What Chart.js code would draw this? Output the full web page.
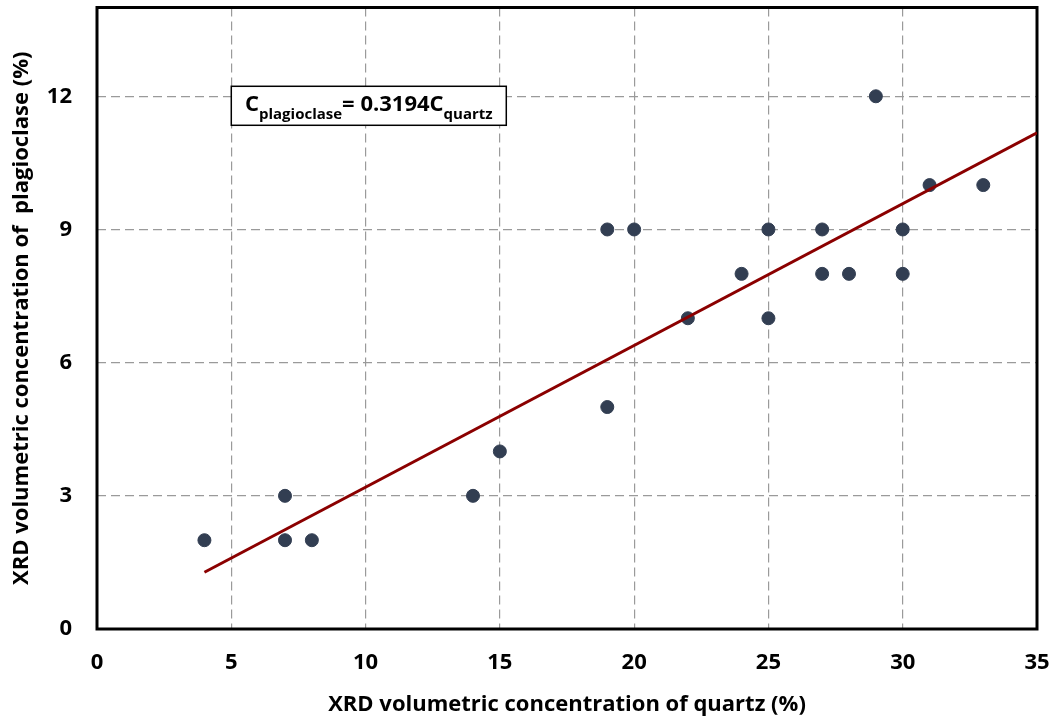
<!DOCTYPE html>
<html>
<head>
<meta charset="utf-8">
<script src="https://cdn.jsdelivr.net/npm/chart.js@4"></script>
<style>
  body { margin: 0; background: #fff; }
  #wrap { width: 1055px; height: 721px; }
</style>
</head>
<body>
<div id="wrap"><canvas id="quartzChart"></canvas></div>
<script>
// XRD volumetric concentrations (%)
const quartz      = [4, 7, 7, 8, 14, 15, 19, 19, 20, 22, 24, 25, 25, 27, 27, 28, 29, 30, 30, 31, 33];
const plagioclase = [2, 3, 2, 2, 3, 4, 5, 9, 9, 7, 8, 9, 7, 9, 8, 8, 12, 9, 8, 10, 10];

// Linear fit through origin
const slope = 0.3194;
const fitRange = [4, 35];

const xTicks = [0, 5, 10, 15, 20, 25, 30, 35];
const yTicks = [0, 3, 6, 9, 12];

const FONT = "'Open Sans', Roboto, sans-serif";

const points = quartz.map((q, i) => ({ x: q, y: plagioclase[i] }));
const fitLine = fitRange.map(q => ({ x: q, y: slope * q }));

// black frame around the plot area
const framePlugin = {
  id: "frame",
  beforeDatasetsDraw(chart) {
    const { ctx, chartArea: a } = chart;
    ctx.save();
    ctx.strokeStyle = "#000";
    ctx.lineWidth = 3;
    ctx.strokeRect(a.left, a.top, a.right - a.left, a.bottom - a.top);
    ctx.restore();
  }
};

// equation label in a boxed text
const equationPlugin = {
  id: "equation",
  afterDatasetsDraw(chart) {
    const { ctx, scales } = chart;
    const left = scales.x.getPixelForValue(5);
    const top = scales.y.getPixelForValue(12) - 10;
    const w = 275, h = 39;
    ctx.save();
    ctx.fillStyle = "#fff";
    ctx.fillRect(left, top, w, h);
    ctx.strokeStyle = "#000";
    ctx.lineWidth = 1.5;
    ctx.strokeRect(left, top, w, h);

    const parts = [
      { t: "C", size: 22, dy: 0 },
      { t: "plagioclase", size: 15, dy: 8 },
      { t: "= 0.3194C", size: 22, dy: 0 },
      { t: "quartz", size: 15, dy: 8 }
    ];
    let total = 0;
    parts.forEach(p => {
      ctx.font = "bold " + p.size + "px " + FONT;
      p.w = ctx.measureText(p.t).width;
      total += p.w;
    });
    let x = left + (w - total) / 2;
    const base = top + 25;
    ctx.fillStyle = "#000";
    ctx.textBaseline = "alphabetic";
    parts.forEach(p => {
      ctx.font = "bold " + p.size + "px " + FONT;
      ctx.fillText(p.t, x, base + p.dy);
      x += p.w;
    });
    ctx.restore();
  }
};

new Chart(document.getElementById("quartzChart"), {
  type: "scatter",
  data: {
    datasets: [
      {
        label: "Measured",
        data: points,
        backgroundColor: "#323e52",
        borderColor: "#323e52",
        pointRadius: 6.5,
        pointHoverRadius: 6.5,
        order: 2
      },
      {
        label: "Fit",
        type: "line",
        data: fitLine,
        borderColor: "#8b0000",
        borderWidth: 3,
        pointRadius: 0,
        fill: false,
        order: 1
      }
    ]
  },
  options: {
    responsive: true,
    maintainAspectRatio: false,
    animation: false,
    layout: { padding: { left: 0, top: 7, right: 18, bottom: 0 } },
    plugins: {
      legend: { display: false },
      tooltip: { enabled: false }
    },
    scales: {
      x: {
        type: "linear",
        min: 0,
        max: 35,
        afterBuildTicks: s => { s.ticks = xTicks.map(v => ({ value: v })); },
        afterFit: s => {
          s.height = 92;
          s.paddingLeft = 0;
          s.paddingRight = 0;
        },
        grid: {
          color: "#9a9a9a",
          lineWidth: 1.2,
          drawTicks: false
        },
        border: { display: false, dash: [9, 5] },
        ticks: {
          color: "#000",
          padding: 21,
          font: { family: FONT, size: 22, weight: "bold" }
        },
        title: {
          display: true,
          text: "XRD volumetric concentration of quartz (%)",
          color: "#000",
          font: { family: FONT, size: 22, weight: "bold" },
          padding: { top: 0, bottom: 3 }
        }
      },
      y: {
        type: "linear",
        min: 0,
        max: 14,
        afterBuildTicks: s => { s.ticks = yTicks.map(v => ({ value: v })); },
        afterFit: s => {
          s.width = 97;
          s.paddingTop = 0;
          s.paddingBottom = 0;
        },
        grid: {
          color: "#9a9a9a",
          lineWidth: 1.2,
          drawTicks: false
        },
        border: { display: false, dash: [9, 5] },
        ticks: {
          color: "#000",
          padding: 25,
          font: { family: FONT, size: 22, weight: "bold" }
        },
        title: {
          display: true,
          text: "XRD volumetric concentration of  plagioclase (%)",
          color: "#000",
          font: { family: FONT, size: 22, weight: "bold" },
          padding: { top: 9, bottom: 0 }
        }
      }
    }
  },
  plugins: [framePlugin, equationPlugin]
});
</script>
</body>
</html>
